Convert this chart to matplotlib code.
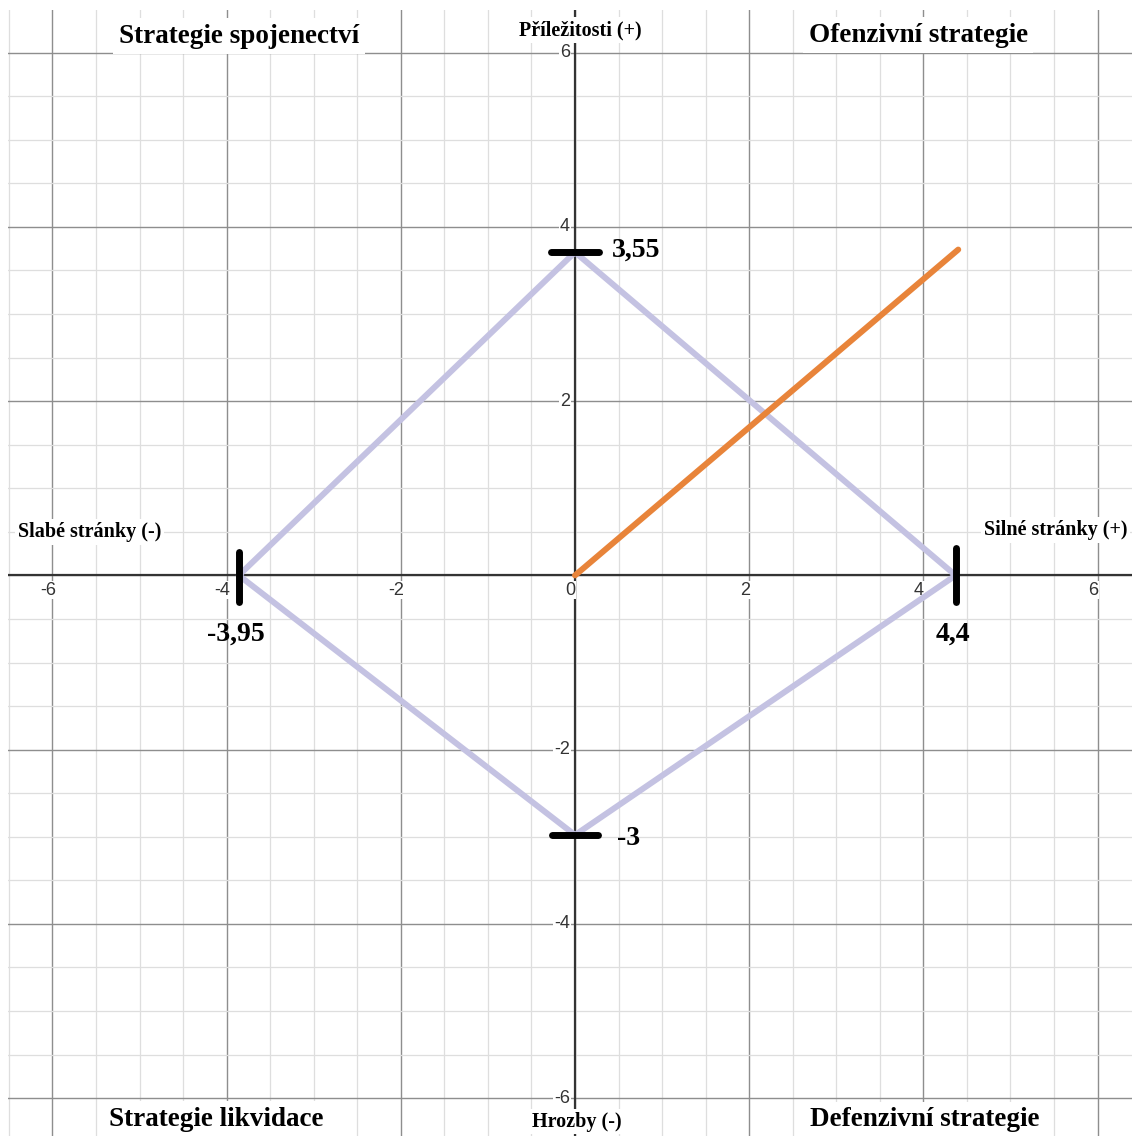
"""SWOT strategy chart on a Desmos-like grid."""

import matplotlib
matplotlib.use('Agg')
import matplotlib.pyplot as plt
from matplotlib.ticker import MultipleLocator

SERIF = 'Liberation Serif'
SANS = 'Liberation Sans'

# diamond vertices (top, right, bottom, left) as drawn
diamond_x = [0, 4.37, 0, -3.86, 0]
diamond_y = [3.71, 0, -2.98, 0, 3.71]
vertex_labels = ['3,55', '4,4', '-3', '-3,95']

# resulting strategy vector
vector_x = [0, 4.4]
vector_y = [0, 3.74]

quadrant_titles = ['Strategie spojenectví', 'Ofenzivní strategie',
                   'Strategie likvidace', 'Defenzivní strategie']
axis_names = ['Příležitosti (+)', 'Silné stránky (+)', 'Hrozby (-)', 'Slabé stránky (-)']
tick_values = [-6, -4, -2, 0, 2, 4, 6]

fig = plt.figure(figsize=(11.32, 11.36), dpi=100)
ax = fig.add_axes([8 / 1132, 0, 1124 / 1132, 1126 / 1136])
ax.set_xlim(-6.51, 6.395)
ax.set_ylim(-6.435, 6.49)

# grid
ax.xaxis.set_major_locator(MultipleLocator(2))
ax.yaxis.set_major_locator(MultipleLocator(2))
ax.xaxis.set_minor_locator(MultipleLocator(0.5))
ax.yaxis.set_minor_locator(MultipleLocator(0.5))
ax.grid(which='major', color='#8e8e8e', linewidth=1.0)
ax.grid(which='minor', color='#dedede', linewidth=0.9)
ax.tick_params(which='both', length=0, labelbottom=False, labelleft=False)
for sp in ax.spines.values():
    sp.set_visible(False)
ax.set_axisbelow(True)
ax.axhline(0, color='#333333', linewidth=1.6, zorder=2)
ax.axvline(0, color='#333333', linewidth=1.6, zorder=2)

# tick labels with white halo
box = dict(facecolor='white', edgecolor='none', pad=0.5)
for v in tick_values:
    ax.text(v - 0.05, -0.17, str(v), ha='center', va='center', fontsize=13,
            family=SANS, color='#333333', bbox=box, zorder=3)
    if v != 0:
        ax.text(-0.06, v, str(v), ha='right', va='center', fontsize=13,
                family=SANS, color='#333333', bbox=box, zorder=3)

# shapes
ax.plot(diamond_x, diamond_y, color='#c4c2e2', linewidth=4.3,
        solid_capstyle='round', solid_joinstyle='round', zorder=4)
ax.plot(vector_x, vector_y, color='#e8843a', linewidth=4.3,
        solid_capstyle='round', zorder=5)

# vertex bars
bar_kw = dict(color='black', linewidth=5, solid_capstyle='round', zorder=6)
ax.plot([-0.28, 0.28], [diamond_y[0]] * 2, **bar_kw)
ax.plot([-0.26, 0.26], [diamond_y[2]] * 2, **bar_kw)
ax.plot([diamond_x[1]] * 2, [-0.3, 0.31], **bar_kw)
ax.plot([diamond_x[3]] * 2, [-0.3, 0.27], **bar_kw)

label_kw = dict(ha='center', va='center', fontsize=20, family=SERIF,
                fontweight='bold', zorder=7)
ax.text(0.70, 3.73, vertex_labels[0], **label_kw)
ax.text(4.34, -0.68, vertex_labels[1], **label_kw)
ax.text(0.61, -3.02, vertex_labels[2], **label_kw)
ax.text(-3.89, -0.67, vertex_labels[3], **label_kw)

# quadrant titles
title_kw = dict(ha='center', va='center', fontsize=19.5, family=SERIF,
                fontweight='bold', bbox=dict(facecolor='white', edgecolor='none', pad=4),
                zorder=7)
ax.text(-3.86, 6.19, quadrant_titles[0], **title_kw)
ax.text(3.94, 6.2, quadrant_titles[1], **title_kw)
ax.text(-4.12, -6.24, quadrant_titles[2], **title_kw)
ax.text(4.02, -6.25, quadrant_titles[3], **title_kw)

# axis names
name_kw = dict(ha='center', va='center', fontsize=14.5, family=SERIF,
               fontweight='bold', bbox=dict(facecolor='white', edgecolor='none', pad=2),
               zorder=7)
ax.text(0.06, 6.26, axis_names[0], **name_kw)
ax.text(5.52, 0.52, axis_names[1], **name_kw)
ax.text(0.02, -6.27, axis_names[2], **name_kw)
ax.text(-5.57, 0.5, axis_names[3], **name_kw)

fig.savefig('out.png', dpi=100)
